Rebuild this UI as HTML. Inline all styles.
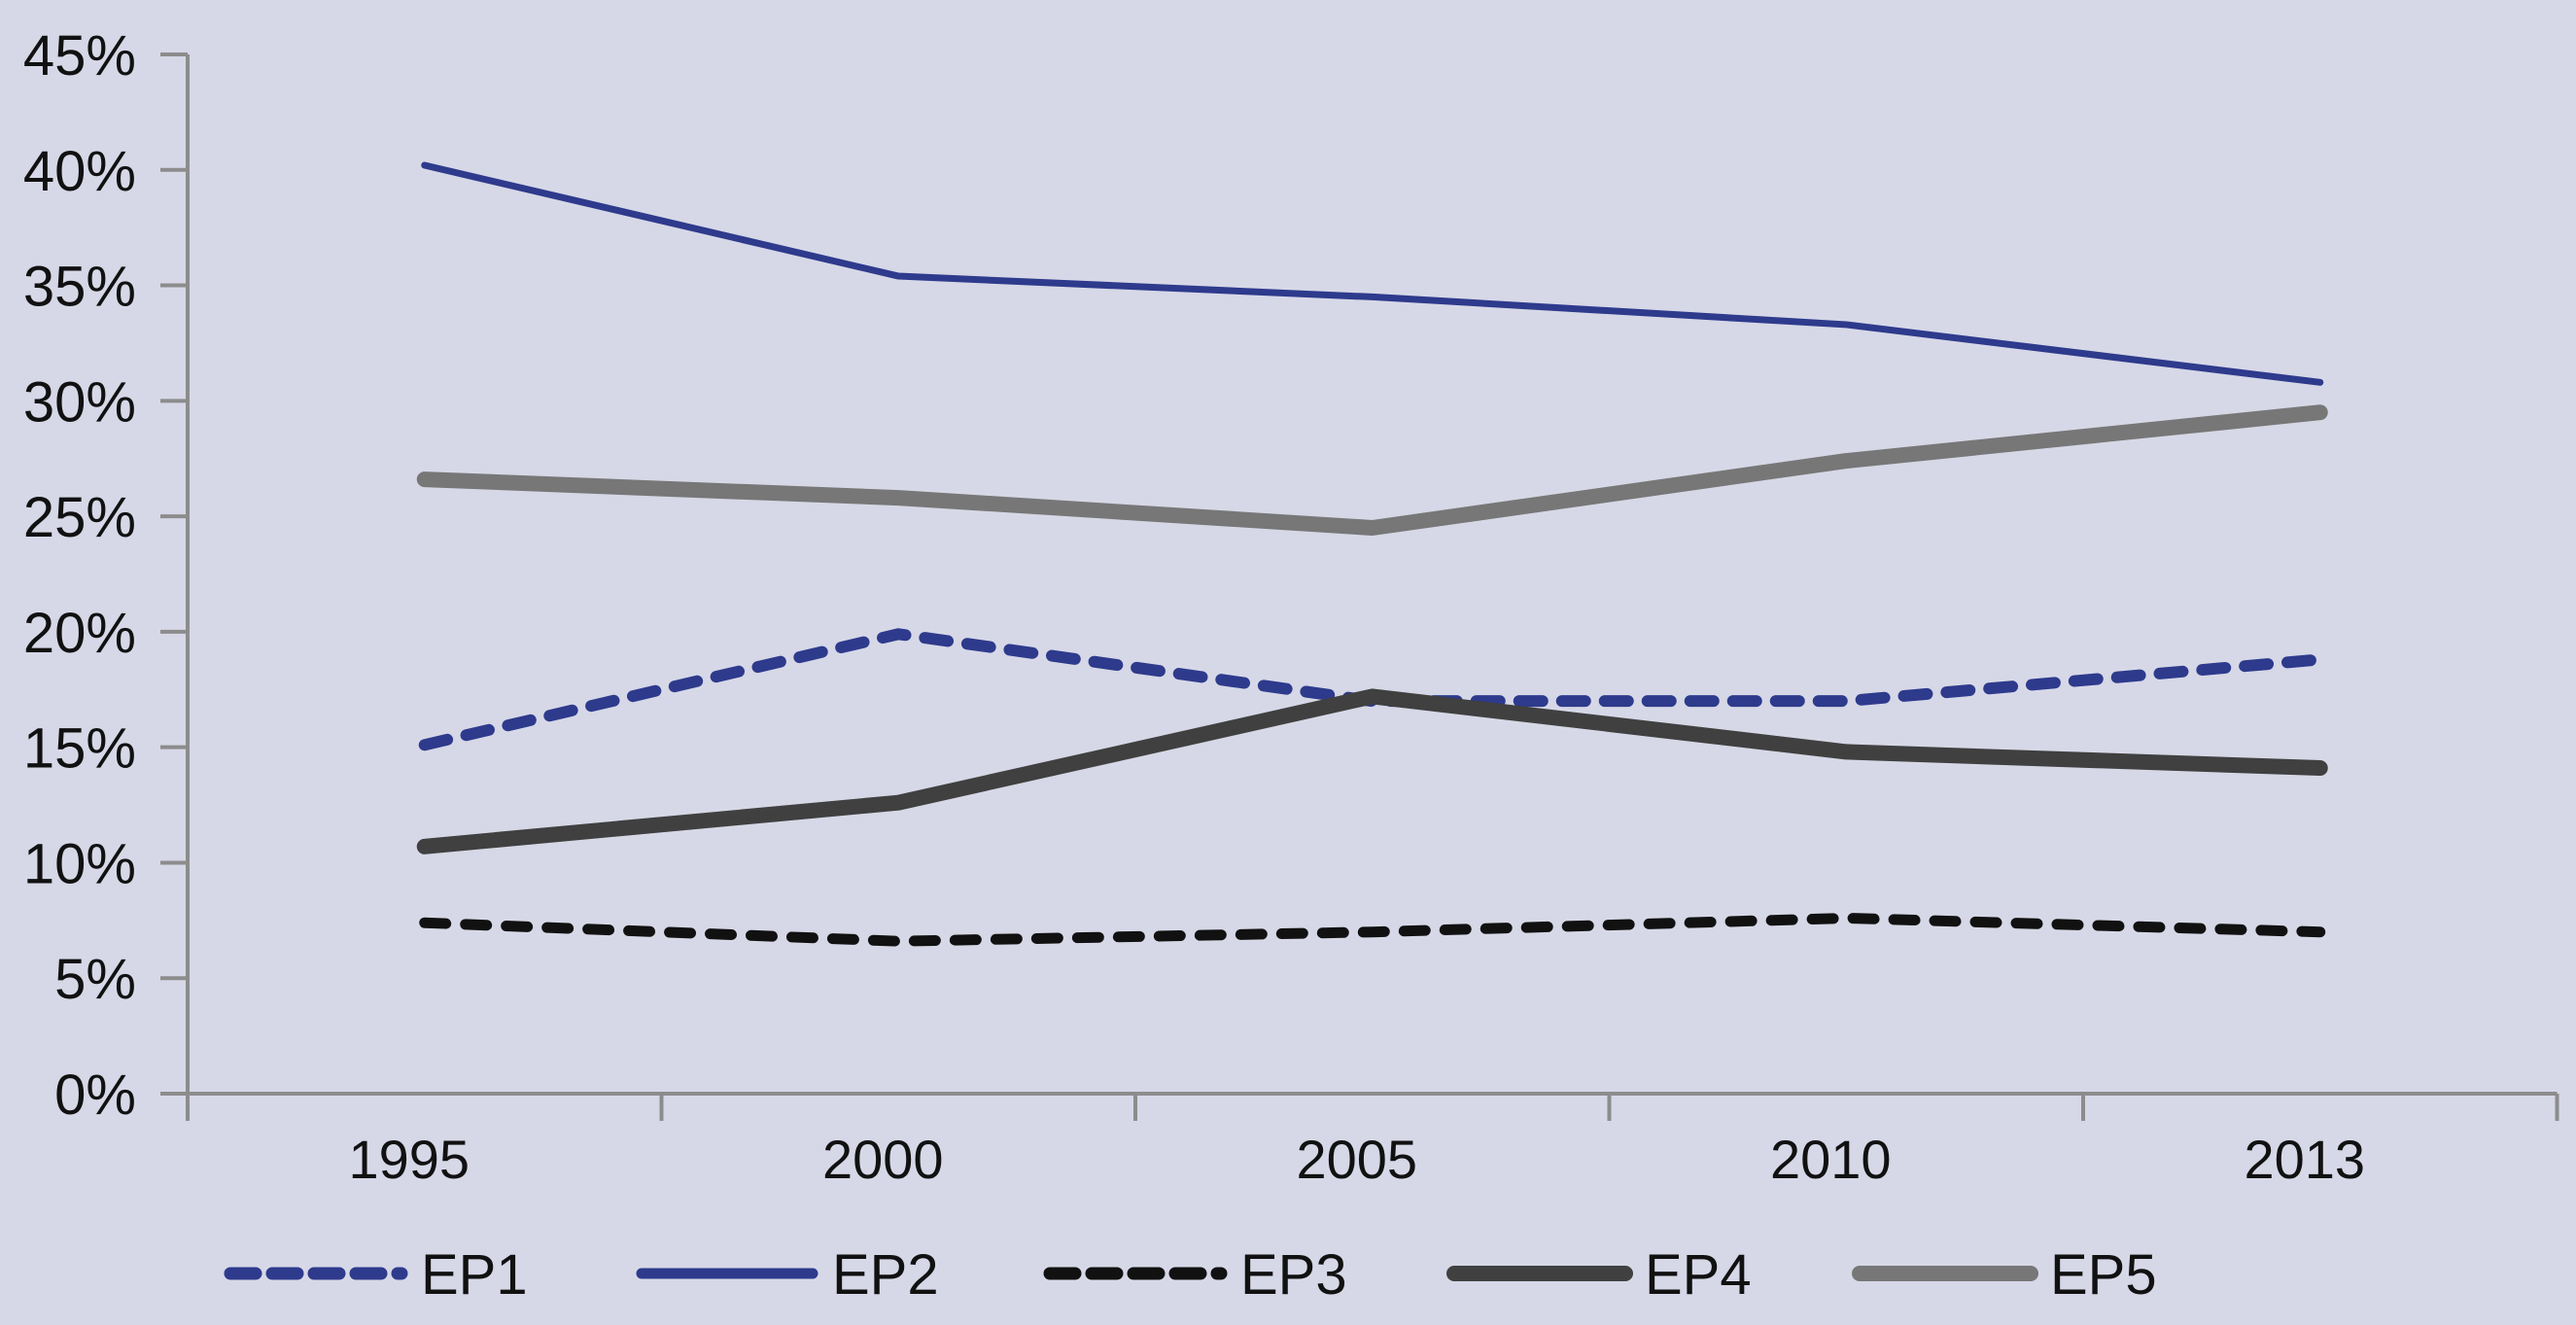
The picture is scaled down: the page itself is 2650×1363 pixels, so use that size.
<!DOCTYPE html>
<html><head><meta charset="utf-8"><style>
html,body{margin:0;padding:0;background:#d6d8e7;}
svg{display:block;font-family:"Liberation Sans",sans-serif;}
</style></head><body>
<svg id="chart" width="2650" height="1363" viewBox="0 0 2650 1363">
<rect width="2650" height="1363" fill="#d6d8e7"/>
<g id="axes"></g><g id="series"></g><g id="legend"></g>
</svg>
<script>
const categories = ["1995","2000","2005","2010","2013"];
const yTicks = [0,5,10,15,20,25,30,35,40,45];
const ep1 = [15.1,19.9,17.0,17.0,18.8];
const ep2 = [40.2,35.4,34.5,33.3,30.8];
const ep3 = [7.4,6.6,7.0,7.6,7.0];
const ep4 = [10.7,12.6,17.2,14.8,14.1];
const ep5 = [26.6,25.8,24.5,27.4,29.5];
const seriesNames = ["EP1","EP2","EP3","EP4","EP5"];

const NS="http://www.w3.org/2000/svg";
const x0=193, band=487.5, yBase=1125, yTop=56, yMax=45;
function xPos(i){return x0+band*(i+0.5);}
function yPos(v){return yBase-(v/yMax)*(yBase-yTop);}
function mk(tag,attrs,parent){const e=document.createElementNS(NS,tag);for(const k in attrs)e.setAttribute(k,attrs[k]);parent.appendChild(e);return e;}
const axes=document.getElementById('axes');
const grey="#8c8c8c";
let yl=mk('line',{x1:x0,y1:yTop,x2:x0,y2:yBase,stroke:grey,'stroke-width':4},axes);


let xl=mk('line',{x1:x0-28,y1:yBase,x2:x0+band*5,y2:yBase,stroke:grey,'stroke-width':4},axes);


yTicks.forEach(v=>{
  const y=yPos(v);
  const t=mk('line',{x1:x0-28,y1:y,x2:x0,y2:y,stroke:grey,'stroke-width':4},axes);
  
  
  const l=mk('text',{x:140,y:y+21,'text-anchor':'end','font-size':58,fill:'#111'},axes);
  l.textContent=v+'%';
  
  
});
for(let i=0;i<=categories.length;i++){
  const x=x0+band*i;
  const t=mk('line',{x1:x,y1:yBase,x2:x,y2:yBase+28,stroke:grey,'stroke-width':4},axes);
  
  
}
categories.forEach((c,i)=>{
  const l=mk('text',{x:xPos(i)-16,y:1212,'text-anchor':'middle','font-size':56,fill:'#111'},axes);
  l.textContent=c;
  
  
});
const styles=[
  {data:ep1,color:'#2e3a8c',w:12,dash:'24 20'},
  {data:ep2,color:'#2e3a8c',w:7,dash:''},
  {data:ep3,color:'#111111',w:11,dash:'22 20'},
  {data:ep4,color:'#404040',w:16,dash:''},
  {data:ep5,color:'#777777',w:16,dash:''}
];
const sg=document.getElementById('series');
styles.forEach((s,k)=>{
  const pts=s.data.map((v,i)=>xPos(i)+','+yPos(v)).join(' ');
  const p=mk('polyline',{points:pts,fill:'none',stroke:s.color,'stroke-width':s.w,'stroke-linecap':'round','stroke-linejoin':'round'},sg);
  if(s.dash)p.setAttribute('stroke-dasharray',s.dash);
  
  
});
const lg=document.getElementById('legend');
const legX=[230,653,1073,1489,1906];
styles.forEach((s,k)=>{
  const x=legX[k];
  const g=mk('g',{},lg);
  
  
  const l=mk('line',{x1:x+7,y1:1310,x2:x+183,y2:1310,stroke:s.color,'stroke-width':s.dash?13:(k==1?11:16),'stroke-linecap':'round'},g);
  if(s.dash)l.setAttribute('stroke-dasharray','26 17');
  const t=mk('text',{x:x+203,y:1331,'font-size':58,fill:'#111'},g);
  t.textContent=seriesNames[k];
});
</script>
</body></html>
